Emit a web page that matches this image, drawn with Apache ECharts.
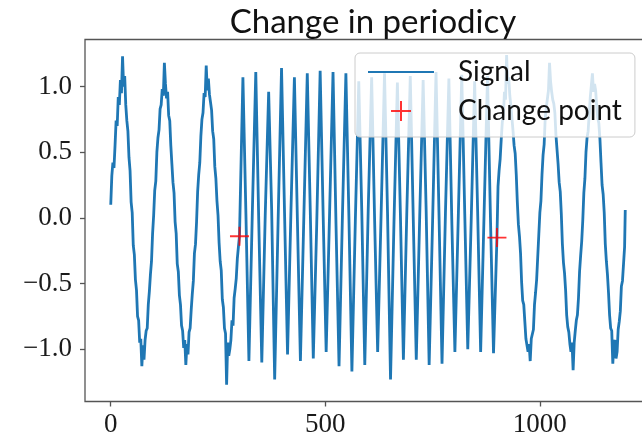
<!DOCTYPE html>
<html>
<head>
<meta charset="utf-8">
<script src="https://cdn.jsdelivr.net/npm/echarts@6/dist/echarts.min.js"></script>
<style>
  html, body { margin: 0; padding: 0; background: #ffffff; }
  #chart { width: 642px; height: 434px; }
</style>
</head>
<body>
<div id="chart"></div>
<script>
// slow parts are sampled every 2.5 steps, starting at slow1Start / slow2Start
const sampleStep = 2.5;
const slow1Start = 0;
const slow1Y = [
  0.10, 0.32, 0.42, 0.38, 0.55, 0.74, 0.70, 0.92, 0.86, 1.05, 0.95, 1.23, 1.00, 1.08, 0.86, 0.74, 0.66, 0.46, 0.36, 0.12,
  0.04, -0.21, -0.28, -0.47, -0.55, -0.75, -0.78, -0.95, -0.92, -1.13, -0.97, -1.08, -0.93, -0.86, -0.84, -0.66, -0.56, -0.43, -0.33, -0.12,
  0.02, 0.21, 0.28, 0.50, 0.61, 0.67, 0.83, 0.86, 0.98, 0.93, 1.18, 1.02, 0.91, 0.96, 0.78, 0.74, 0.55, 0.41, 0.27, 0.19,
  -0.03, -0.12, -0.35, -0.41, -0.59, -0.66, -0.82, -0.86, -0.99, -0.93, -1.12, -0.96, -1.04, -0.87, -0.84, -0.70, -0.58, -0.48, -0.27, -0.20,
  -0.03, 0.20, 0.33, 0.42, 0.62, 0.75, 0.80, 0.95, 0.92, 1.16, 0.97, 1.06, 0.94, 0.88, 0.82, 0.66, 0.60, 0.39, 0.30, 0.13,
  0.02, -0.19, -0.33, -0.40, -0.62, -0.68, -0.84, -0.88, -1.27, -0.95, -1.05, -1.00, -0.93, -0.78, -0.82, -0.61, -0.54, -0.46, -0.31, -0.22
];

// fast part between the change points
const fastX = [300, 308, 315, 322, 330, 338, 345, 352, 360, 368, 375, 382, 390, 398, 405, 412,
  420, 428, 435, 442, 450, 458, 465, 472, 480, 488, 495, 502, 510, 518, 525, 532,
  540, 548, 555, 562, 570, 578, 585, 592, 600, 608, 615, 622, 630, 638, 645, 652,
  660, 668, 675, 682, 690, 698, 705, 712, 720, 728, 735, 742, 750, 758, 765, 772,
  780, 788, 795, 802, 810, 818, 825, 832, 840, 848, 855, 862, 870, 878, 885, 892];
const fastY = [-0.14, 1.07, 0.03, -1.09, 0.05, 1.11, -0.04, -1.10, 0.02, 0.96, 0.06, -1.23, -0.03, 1.14, 0.04, -1.04,
  0.06, 1.07, -0.02, -1.09, 0.01, 1.10, 0.05, -1.07, -0.05, 1.12, 0.02, -1.02, 0.04, 1.11, -0.06, -1.13,
  0.03, 1.10, 0.01, -1.17, -0.02, 1.04, 0.05, -1.12, 0.06, 1.07, -0.03, -1.02, 0.02, 1.10, 0.04, -1.23,
  -0.04, 1.03, 0.03, -1.08, 0.05, 1.08, -0.01, -1.08, 0.01, 1.05, 0.06, -1.12, -0.03, 1.11, 0.02, -1.11,
  0.04, 1.06, -0.05, -1.02, 0.02, 1.09, 0.03, -1.00, -0.02, 1.04, 0.05, -1.02, 0.03, 1.08, -0.02, -1.03];

const slow2Start = 900;
const slow2Y = [
  -0.15, 0.24, 0.36, 0.45, 0.60, 0.73, 0.78, 0.96, 0.90, 1.24, 1.02, 1.07, 0.93, 0.85, 0.86, 0.66, 0.55, 0.49, 0.33, 0.12,
  -0.05, -0.14, -0.27, -0.49, -0.63, -0.66, -0.79, -0.92, -0.97, -1.02, -0.96, -1.09, -0.92, -0.93, -0.85, -0.66, -0.57, -0.47, -0.30, -0.13,
  0.04, 0.13, 0.33, 0.48, 0.56, 0.76, 0.84, 0.85, 0.97, 1.18, 1.04, 0.96, 0.90, 0.87, 0.80, 0.63, 0.62, 0.41, 0.27, 0.20,
  0.03, -0.20, -0.34, -0.42, -0.55, -0.74, -0.83, -0.87, -0.96, -1.02, -0.95, -1.16, -0.95, -0.86, -0.78, -0.74, -0.61, -0.41, -0.29, -0.18,
  -0.02, 0.19, 0.30, 0.50, 0.61, 0.66, 0.79, 0.92, 0.93, 1.10, 0.96, 1.02, 0.97, 0.85, 0.76, 0.72, 0.60, 0.42, 0.25, 0.18,
  0.04, -0.20, -0.33, -0.43, -0.57, -0.74, -0.84, -0.86, -1.11, -0.95, -0.93, -1.07, -1.02, -0.85, -0.79, -0.71, -0.52, -0.48, -0.35, -0.22
];
const lastX = 1199;
const lastY = 0.06;

const changeX = [300, 900];
const changeY = [-0.14, -0.15];

const xTicks = [0, 500, 1000];
const yTicks = [-1.0, -0.5, 0.0, 0.5, 1.0];

function sampled(start, ys) {
  return ys.map((y, i) => [start + i * sampleStep, y]);
}
function pairs(xs, ys) {
  return xs.map((x, i) => [x, ys[i]]);
}

const signalData = sampled(slow1Start, slow1Y)
  .concat(pairs(fastX, fastY), sampled(slow2Start, slow2Y), [[lastX, lastY]]);
const changeData = pairs(changeX, changeY);

const plusPath = 'path://M4.5,0h1v4.5h4.5v1h-4.5v4.5h-1v-4.5h-4.5v-1h4.5z';
const serif = '"Liberation Serif", "DejaVu Serif", serif';
const sans = 'Lato, "Open Sans", sans-serif';

var chartDom = document.getElementById('chart');
var myChart = echarts.init(chartDom, null, { renderer: 'canvas' });
var option = {
  animation: false,
  backgroundColor: '#ffffff',
  title: {
    text: 'Change in periodicy',
    left: 368,
    textAlign: 'center',
    top: 1,
    textStyle: { fontFamily: sans, fontSize: 33, fontWeight: 'normal', color: '#111111' }
  },
  grid: {
    left: 85, top: 39.5, width: 566, height: 362,
    outerBoundsMode: 'none',
    containLabel: false,
    show: true, borderColor: '#555555', borderWidth: 1.3, backgroundColor: 'transparent'
  },
  legend: {
    orient: 'vertical',
    left: 355,
    top: 53,
    padding: [5, 13, 12, 12],
    itemWidth: 66,
    itemHeight: 20,
    itemGap: 11,
    backgroundColor: 'rgba(255,255,255,0.8)',
    borderColor: '#cccccc',
    borderWidth: 1,
    borderRadius: 5,
    textStyle: { fontFamily: sans, fontSize: 28, color: '#111111', padding: [0, 0, 0, 19] },
    data: [
      { name: 'Signal', itemStyle: { opacity: 0 } },
      { name: 'Change point', icon: plusPath, itemStyle: { color: '#ff0000' } }
    ]
  },
  xAxis: {
    type: 'value',
    min: -60,
    max: 1259,
    splitLine: { show: false },
    axisLine: { show: false, onZero: false },
    axisTick: { show: true, customValues: xTicks, length: 5, lineStyle: { color: '#555555', width: 1.3 } },
    axisLabel: {
      customValues: xTicks, margin: 10, fontFamily: serif, fontSize: 27, color: '#1a1a1a',
      formatter: function (v) { return String(v); }
    }
  },
  yAxis: {
    type: 'value',
    min: -1.398,
    max: 1.358,
    splitLine: { show: false },
    axisLine: { show: false, onZero: false },
    axisTick: { show: true, customValues: yTicks, length: 5, lineStyle: { color: '#555555', width: 1.3 } },
    axisLabel: {
      customValues: yTicks, margin: 13, fontFamily: serif, fontSize: 27, color: '#1a1a1a',
      formatter: function (v) { return v.toFixed(1).replace('-', '\u2212'); }
    }
  },
  series: [
    {
      name: 'Signal',
      type: 'line',
      data: signalData,
      showSymbol: false,
      symbol: 'none',
      color: '#1f77b4',
      lineStyle: { color: '#1f77b4', width: 2.8 },
      z: 2
    },
    {
      name: 'Change point',
      type: 'scatter',
      data: changeData,
      symbol: plusPath,
      symbolSize: 19,
      itemStyle: { color: '#ff0000' },
      z: 3
    }
  ]
};
option && myChart.setOption(option);
</script>
</body>
</html>
